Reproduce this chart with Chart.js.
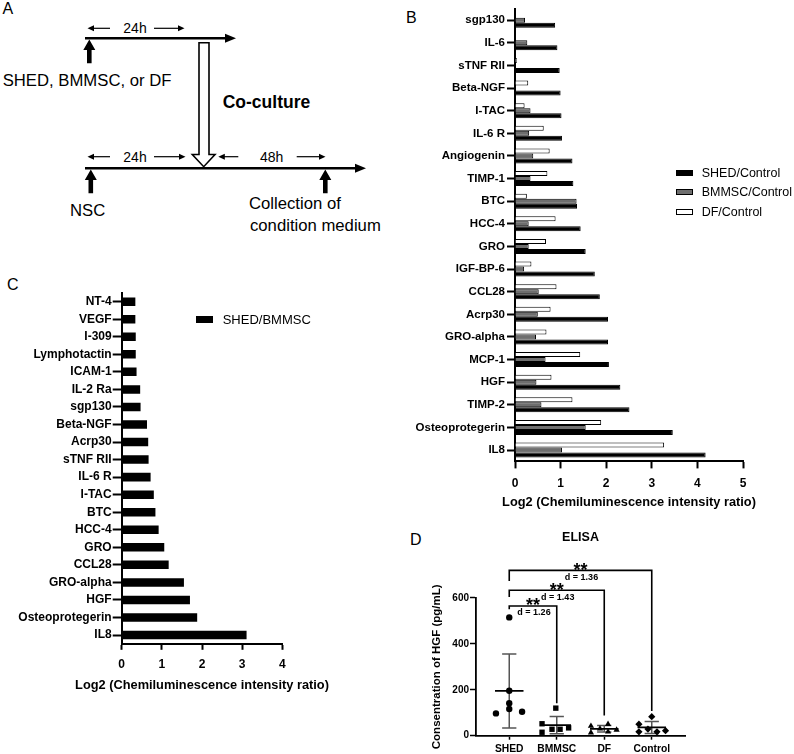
<!DOCTYPE html>
<html>
<head>
<meta charset="utf-8">
<script src="https://cdn.jsdelivr.net/npm/chart.js@4.4.1/dist/chart.umd.min.js"></script>
<style>
  body { margin: 0; background: #fff; }
  #fig { position: relative; width: 794px; height: 754px; overflow: hidden;
         font-family: 'Liberation Sans', Arial, sans-serif; color: #000; }
  #fig canvas, #fig svg, .legend { position: absolute; }
  .legend .row { display: flex; align-items: center; white-space: nowrap; }
  .legend .box { display: inline-block; box-sizing: border-box; }
</style>
</head>
<body>
<div id="fig">
  <svg width="794" height="754" style="left:0;top:0" font-family="'Liberation Sans', Arial, sans-serif">
    <!-- panel letters -->
    <text x="2.5" y="8" font-size="16" dominant-baseline="central">A</text>
    <text x="406" y="17" font-size="16" dominant-baseline="central">B</text>
    <text x="7" y="284" font-size="16" dominant-baseline="central">C</text>
    <text x="410" y="539" font-size="16" dominant-baseline="central">D</text>

    <!-- panel A: top timeline -->
    <line x1="85" y1="38.3" x2="227" y2="38.3" stroke="#000" stroke-width="2.5"/>
    <polygon points="236,38.3 225,33.8 225,42.8" fill="#000"/>
    <line x1="92" y1="28.3" x2="110" y2="28.3" stroke="#000" stroke-width="1.2"/>
    <polygon points="87.5,28.3 94,25.3 94,31.3" fill="#000"/>
    <text x="135" y="28.3" font-size="14" text-anchor="middle" dominant-baseline="central">24h</text>
    <line x1="154" y1="28.3" x2="180" y2="28.3" stroke="#000" stroke-width="1.2"/>
    <polygon points="184.5,28.3 178,25.3 178,31.3" fill="#000"/>
    <polygon points="89.3,39.5 95.3,50 91.6,50 91.6,63.3 87,63.3 87,50 83.3,50" fill="#000"/>
    <text x="2.7" y="80" font-size="16.7" dominant-baseline="central">SHED, BMMSC, or DF</text>

    <!-- co-culture hollow arrow -->
    <polygon points="199,42.7 209,42.7 209,154.5 215,154.5 203.7,166.7 192.3,154.5 199,154.5"
             fill="#fff" stroke="#000" stroke-width="1.6"/>
    <text x="222.7" y="101.7" font-size="17.5" font-weight="bold" dominant-baseline="central">Co-culture</text>

    <!-- bottom timeline -->
    <line x1="85" y1="168.3" x2="357" y2="168.3" stroke="#000" stroke-width="2.5"/>
    <polygon points="366,168.3 355,163.8 355,172.8" fill="#000"/>
    <line x1="92" y1="156.7" x2="110" y2="156.7" stroke="#000" stroke-width="1.2"/>
    <polygon points="87.5,156.7 94,153.7 94,159.7" fill="#000"/>
    <text x="135" y="156.7" font-size="14" text-anchor="middle" dominant-baseline="central">24h</text>
    <line x1="154" y1="156.7" x2="181" y2="156.7" stroke="#000" stroke-width="1.2"/>
    <polygon points="185.5,156.7 179,153.7 179,159.7" fill="#000"/>
    <line x1="223" y1="156.7" x2="238.3" y2="156.7" stroke="#000" stroke-width="1.2"/>
    <polygon points="218.3,156.7 224.8,153.7 224.8,159.7" fill="#000"/>
    <text x="271.7" y="156.7" font-size="14" text-anchor="middle" dominant-baseline="central">48h</text>
    <line x1="296.7" y1="156.7" x2="321" y2="156.7" stroke="#000" stroke-width="1.2"/>
    <polygon points="325.5,156.7 319,153.7 319,159.7" fill="#000"/>
    <polygon points="90.8,169.5 96.8,180 93.1,180 93.1,193.3 88.5,193.3 88.5,180 84.8,180" fill="#000"/>
    <polygon points="325.3,169.5 331.3,180 327.6,180 327.6,193.3 323,193.3 323,180 319.3,180" fill="#000"/>
    <text x="70" y="210" font-size="16.7" dominant-baseline="central">NSC</text>
    <text x="249" y="203.3" font-size="16.7" dominant-baseline="central">Collection of</text>
    <text x="250" y="225" font-size="16.7" dominant-baseline="central">condition medium</text>
  </svg>

  <canvas id="chartB" width="394" height="515" style="left:400px;top:0"></canvas>
  <canvas id="chartC" width="400" height="430" style="left:0;top:270px"></canvas>
  <canvas id="chartD" width="374" height="234" style="left:420px;top:520px"></canvas>
  <div id="legendB" class="legend" style="left:676px;top:163px;font-size:12.5px"></div>
  <div id="legendC" class="legend" style="left:196px;top:309.5px;font-size:13px"></div>
</div>

<script>
// ---- panel B: cytokines vs control
const bLabels = ['sgp130', 'IL-6', 'sTNF RII', 'Beta-NGF', 'I-TAC', 'IL-6 R', 'Angiogenin', 'TIMP-1', 'BTC', 'HCC-4',
  'GRO', 'IGF-BP-6', 'CCL28', 'Acrp30', 'GRO-alpha', 'MCP-1', 'HGF', 'TIMP-2', 'Osteoprotegerin', 'IL8'];
const shedControl = [0.88, 0.93, 0.98, 1.00, 1.02, 1.03, 1.26, 1.28, 1.36, 1.44,
  1.55, 1.75, 1.86, 2.04, 2.04, 2.06, 2.31, 2.51, 3.46, 4.18];
const bmmscControl = [0.22, 0.27, null, null, 0.34, 0.31, 0.40, 0.34, 1.35, 0.30,
  0.30, 0.20, 0.52, 0.50, 0.46, 0.67, 0.47, 0.58, 1.55, 1.03];
const dfControl = [null, null, 0.04, 0.29, 0.21, 0.63, 0.76, 0.71, 0.26, 0.89,
  0.68, 0.36, 0.91, 0.78, 0.69, 1.43, 0.80, 1.26, 1.89, 3.27];
const bSeries = ['SHED/Control', 'BMMSC/Control', 'DF/Control'];
const bFills = ['#000000', '#6e6e6e', '#ffffff'];

// ---- panel C: SHED vs BMMSC
const cLabels = ['NT-4', 'VEGF', 'I-309', 'Lymphotactin', 'ICAM-1', 'IL-2 Ra', 'sgp130', 'Beta-NGF', 'Acrp30', 'sTNF RII',
  'IL-6 R', 'I-TAC', 'BTC', 'HCC-4', 'GRO', 'CCL28', 'GRO-alpha', 'HGF', 'Osteoprotegerin', 'IL8'];
const shedBmmsc = [0.34, 0.34, 0.35, 0.35, 0.37, 0.46, 0.47, 0.63, 0.66, 0.67,
  0.72, 0.80, 0.84, 0.92, 1.06, 1.17, 1.55, 1.70, 1.88, 3.11];

// ---- panel D: ELISA HGF
const dGroups = ['SHED', 'BMMSC', 'DF', 'Control'];
const hgfShed = [515, 196, 141, 116, 97, 104];
const hgfBmmsc = [120, 52, 15, 28, 28, 34];
const hgfDf = [42, 13, 30, 50, 17, 25];
const hgfControl = [83, 50, 17, 29, 17, 22];
const hgfMean = [195, 46, 30, 36];
const hgfSd = [161, 38, 14, 26];
const spreadShed = [0, 0, 0, 0, -0.28, 0.27];
const spreadBmmsc = [-0.02, -0.31, -0.31, -0.1, 0.07, 0.25];
const spreadDf = [-0.28, -0.28, -0.09, 0.08, 0.08, 0.26];
const spreadControl = [0, -0.27, -0.27, -0.08, 0.11, 0.29];
const effectD = ['1.26', '1.43', '1.36'];

const FONT = "'Liberation Sans', Arial, sans-serif";
Chart.defaults.font.family = FONT;
Chart.defaults.color = '#000';
Chart.defaults.animation = false;
Chart.defaults.events = [];
Chart.defaults.plugins.legend.display = false;
Chart.defaults.plugins.tooltip.enabled = false;

function axisGrid(len, w) {
  return { drawOnChartArea: false, offset: false, tickLength: len, tickWidth: w, tickColor: '#000' };
}

// axis captions drawn by hand: the built-in title squeezes text to the axis length
function caption(text, size, place) {
  return {
    id: 'caption',
    afterDraw: function (chart) {
      const ctx = chart.ctx, a = chart.chartArea;
      ctx.save();
      ctx.font = 'bold ' + size + 'px ' + FONT;
      ctx.fillStyle = '#000';
      ctx.textAlign = 'center';
      ctx.textBaseline = 'middle';
      if (place.rotate) {
        ctx.translate(place.x, (a.top + a.bottom) / 2);
        ctx.rotate(-Math.PI / 2);
        ctx.fillText(text, 0, 0);
      } else {
        ctx.fillText(text, (a.left + a.right) / 2, place.y);
      }
      ctx.restore();
    }
  };
}

function makeLegend(id, names, fills, bw, bh, gap, rowH, border) {
  const el = document.getElementById(id);
  names.forEach(function (name, i) {
    const row = document.createElement('div');
    row.className = 'row';
    row.style.height = rowH + 'px';
    row.innerHTML = '<span class="box" style="width:' + bw + 'px;height:' + bh + 'px;margin-right:' + gap +
      'px;background:' + fills[i] + ';border:' + border + '"></span>' + name;
    el.appendChild(row);
  });
}

// panel B (DF drawn on top of each group, SHED at the bottom)
new Chart(document.getElementById('chartB'), {
  type: 'bar',
  data: {
    labels: bLabels,
    datasets: [
      { label: bSeries[2], data: dfControl, backgroundColor: bFills[2] },
      { label: bSeries[1], data: bmmscControl, backgroundColor: bFills[1] },
      { label: bSeries[0], data: shedControl, backgroundColor: bFills[0] }
    ]
  },
  options: {
    responsive: false,
    devicePixelRatio: 1,
    indexAxis: 'y',
    layout: { padding: { left: 0, right: 51, top: 3.9, bottom: 0 } },
    datasets: { bar: { borderColor: '#000', borderWidth: 1, categoryPercentage: 0.66, barPercentage: 1 } },
    scales: {
      x: {
        type: 'linear', min: 0, max: 5,
        ticks: { stepSize: 1, padding: 8, font: { size: 12, weight: 'bold' } },
        grid: axisGrid(7, 2),
        border: { color: '#000', width: 2 },
        afterFit: function (s) { s.height = 53.6; }
      },
      y: {
        ticks: { autoSkip: false, padding: 2, font: { size: 11.5, weight: 'bold' } },
        grid: axisGrid(8, 2),
        border: { color: '#000', width: 2 },
        afterFit: function (s) { s.width = 115; }
      }
    }
  },
  plugins: [caption('Log2 (Chemiluminescence intensity ratio)', 12.8, { y: 502 })]
});
makeLegend('legendB', bSeries, bFills, 17, 6, 8.7, 19.5, '1px solid #000');

// panel C
new Chart(document.getElementById('chartC'), {
  type: 'bar',
  data: {
    labels: cLabels,
    datasets: [{ label: 'SHED/BMMSC', data: shedBmmsc, backgroundColor: '#000',
      categoryPercentage: 0.5, barPercentage: 0.97 }]
  },
  options: {
    responsive: false,
    devicePixelRatio: 1,
    indexAxis: 'y',
    layout: { padding: { left: 0, right: 117.7, top: 22.9, bottom: 0 } },
    scales: {
      x: {
        type: 'linear', min: 0, max: 4,
        ticks: { stepSize: 1, padding: 7.6, font: { size: 12, weight: 'bold' } },
        grid: axisGrid(6, 2),
        border: { color: '#000', width: 2 },
        afterFit: function (s) { s.height = 56.2; }
      },
      y: {
        ticks: { autoSkip: false, padding: 1, font: { size: 12, weight: 'bold' } },
        grid: axisGrid(9, 2),
        border: { color: '#000', width: 2 },
        afterFit: function (s) { s.width = 121.7; }
      }
    }
  },
  plugins: [caption('Log2 (Chemiluminescence intensity ratio)', 12.8, { y: 415 })]
});
makeLegend('legendC', ['SHED/BMMSC'], ['#000'], 17, 7.5, 9.7, 19.5, 'none');

// panel D
function points(values, spread, g) {
  return values.map(function (v, i) { return { x: g + spread[i], y: v }; });
}
const meanLines = [], sdBars = [];
hgfMean.forEach(function (m, g) {
  const lo = m - hgfSd[g], hi = m + hgfSd[g];
  meanLines.push({ x: g - 0.3, y: m }, { x: g + 0.3, y: m }, { x: g, y: null });
  sdBars.push({ x: g, y: lo }, { x: g, y: hi }, { x: g, y: null },
    { x: g - 0.15, y: hi }, { x: g + 0.15, y: hi }, { x: g, y: null },
    { x: g - 0.15, y: lo }, { x: g + 0.15, y: lo }, { x: g, y: null });
});
// significance brackets: SHED vs group k
const bracketTop = [565, 633, 720];
const bracketFeet = [[551, 141], [604, 88], [674, 108]];
const brackets = [];
[1, 2, 3].forEach(function (k, i) {
  brackets.push({ x: 0, y: bracketFeet[i][0] }, { x: 0, y: bracketTop[i] },
    { x: k, y: bracketTop[i] }, { x: k, y: bracketFeet[i][1] }, { x: k, y: null });
});

const elisaMarks = {
  id: 'elisaMarks',
  afterDatasetsDraw: function (chart) {
    const ctx = chart.ctx, x = chart.scales.x, y = chart.scales.y;
    ctx.save();
    ctx.fillStyle = '#000';
    ctx.textAlign = 'center';
    [1, 2, 3].forEach(function (k, i) {
      const mid = x.getPixelForValue(k / 2);
      const ly = y.getPixelForValue(bracketTop[i]);
      ctx.font = 'bold 18px ' + FONT;
      ctx.textBaseline = 'alphabetic';
      ctx.fillText('**', mid, ly + 5.4);
      ctx.font = 'bold 9px ' + FONT;
      ctx.textBaseline = 'middle';
      ctx.fillText('d = ' + effectD[i], mid + 1, ly + 7);
    });
    ctx.restore();
  }
};

new Chart(document.getElementById('chartD'), {
  type: 'scatter',
  data: {
    datasets: [
      { data: points(hgfShed, spreadShed, 0), pointStyle: 'circle', pointRadius: 3.2 },
      { data: points(hgfBmmsc, spreadBmmsc, 1), pointStyle: 'rect', pointRadius: 3.8 },
      { data: points(hgfDf, spreadDf, 2), pointStyle: 'triangle', pointRadius: 3.6 },
      { data: points(hgfControl, spreadControl, 3), pointStyle: 'rectRot', pointRadius: 3.6 },
      { data: meanLines, showLine: true, borderColor: '#000', borderWidth: 1.8, pointRadius: 0 },
      { data: sdBars, showLine: true, borderColor: '#555', borderWidth: 1.5, pointRadius: 0 },
      { data: brackets, showLine: true, borderColor: '#000', borderWidth: 1.6, pointRadius: 0, clip: false }
    ]
  },
  options: {
    responsive: false,
    devicePixelRatio: 1,
    spanGaps: false,
    layout: { padding: { left: 0, right: 109, top: 0, bottom: 0 } },
    datasets: { scatter: { backgroundColor: '#000', borderColor: '#000', borderWidth: 0, clip: false } },
    plugins: {
      title: { display: true, text: 'ELISA', fullSize: false, color: '#000',
        font: { size: 12.5, weight: 'bold' }, padding: { top: 9.6, bottom: 53.3 } }
    },
    scales: {
      x: {
        type: 'linear', min: -0.7, max: 3.7,
        afterBuildTicks: function (s) { s.ticks = dGroups.map(function (n, i) { return { value: i }; }); },
        ticks: { padding: 3.5, font: { size: 10.3, weight: 'bold' },
          callback: function (v) { return dGroups[v]; } },
        grid: axisGrid(4, 1.5),
        border: { color: '#000', width: 1.8 },
        afterFit: function (s) { s.height = 18.3; }
      },
      y: {
        min: 0, max: 600,
        ticks: { stepSize: 200, padding: 1, font: { size: 10, weight: 'bold' } },
        grid: axisGrid(6, 1.5),
        border: { color: '#000', width: 1.8 },
        afterFit: function (s) { s.width = 56; }
      }
    }
  },
  plugins: [elisaMarks, caption('Consentration of HGF (pg/mL)', 11.5, { rotate: true, x: 17 })]
});
</script>
</body>
</html>
